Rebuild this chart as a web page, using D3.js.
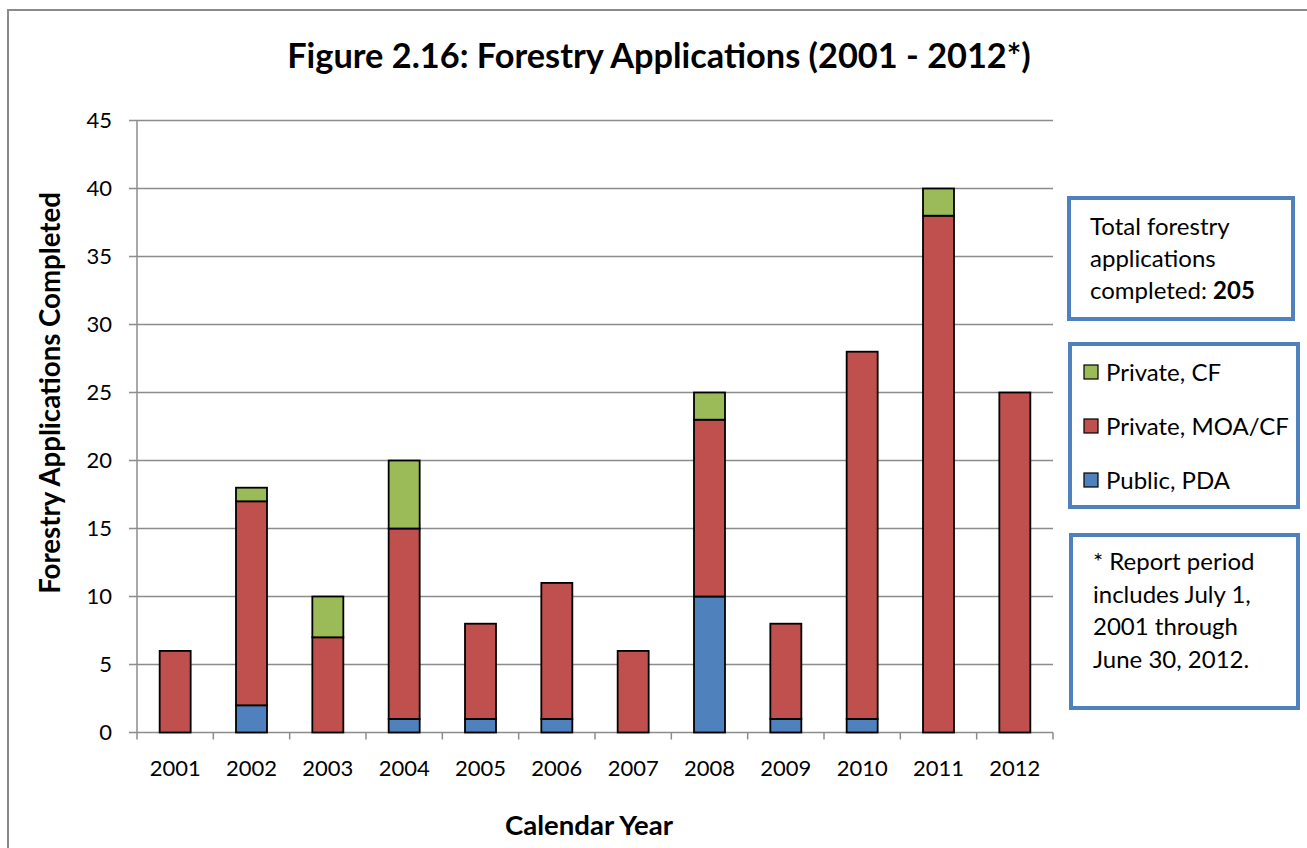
<!DOCTYPE html>
<html><head><meta charset="utf-8">
<script src="https://cdn.jsdelivr.net/npm/d3@7"></script>
<style>body{margin:0;background:#fff;} svg{display:block;font-family:Lato,"Open Sans",sans-serif;}</style>
</head><body>
<svg id="c" width="1307" height="848"></svg>
<script>
const years = ["2001","2002","2003","2004","2005","2006","2007","2008","2009","2010","2011","2012"];
const publicPDA = [0,2,0,1,1,1,0,10,1,1,0,0];
const privateMOA = [6,15,7,14,7,10,6,13,7,27,38,25];
const privateCF = [0,1,3,5,0,0,0,2,0,0,2,0];
const seriesNames = ["Public, PDA","Private, MOA/CF","Private, CF"];
const seriesColors = ["#4F81BD","#C0504D","#9BBB59"];
const yTicks = [0,5,10,15,20,25,30,35,40,45];
const legendOrder = [2,1,0];

const svg = d3.select("#c");
const L=137, R=1053, T=120.5, B=732.5;

// outer border
svg.append("rect").attr("x",8).attr("y",10).attr("width",1400).attr("height",900)
  .attr("fill","none").attr("stroke","#8a8a8a").attr("stroke-width",2);

const x = d3.scaleBand().domain(years).range([L,R]).paddingInner(0).paddingOuter(0);
const y = d3.scaleLinear().domain([0,45]).range([B,T]);

// gridlines
svg.append("g").selectAll("line").data(yTicks).join("line")
  .attr("x1",L-8).attr("x2",R).attr("y1",d=>y(d)).attr("y2",d=>y(d))
  .attr("stroke","#8c8c8c").attr("stroke-width",1.5);

// y axis line
svg.append("line").attr("x1",L).attr("x2",L).attr("y1",T).attr("y2",B)
  .attr("stroke","#8c8c8c").attr("stroke-width",1.5);
// x category ticks
const bounds = years.map((d,i)=>L+i*x.step()).concat([R]);
svg.append("g").selectAll("line").data(bounds).join("line")
  .attr("x1",d=>d).attr("x2",d=>d).attr("y1",B).attr("y2",B+7)
  .attr("stroke","#8c8c8c").attr("stroke-width",1.5);

// y tick labels
svg.append("g").selectAll("text").data(yTicks).join("text")
  .attr("x",112).attr("y",d=>y(d)).attr("dy","0.36em").attr("text-anchor","end")
  .attr("font-size",22).attr("fill","#000").text(d=>d);

// x tick labels
svg.append("g").selectAll("text").data(years).join("text")
  .attr("x",d=>x(d)+x.bandwidth()/2).attr("y",776).attr("text-anchor","middle")
  .attr("font-size",22).attr("fill","#000").text(d=>d);

// stacked bars
const table = years.map((yr,i)=>({year:yr, s0:publicPDA[i], s1:privateMOA[i], s2:privateCF[i]}));
const stack = d3.stack().keys(["s0","s1","s2"])(table);
const bw = 31;
stack.forEach((layer,li)=>{
  svg.append("g").selectAll("rect").data(layer.filter(d=>d[1]-d[0]>0)).join("rect")
    .attr("x",d=>x(d.data.year)+x.bandwidth()/2-bw/2)
    .attr("width",bw)
    .attr("y",d=>y(d[1]))
    .attr("height",d=>y(d[0])-y(d[1]))
    .attr("fill",seriesColors[li]).attr("stroke","#000").attr("stroke-width",1.8);
});

function fit(sel, w){
  const n = sel.node(); const cur = n.getComputedTextLength();
  const fs = parseFloat(sel.attr("font-size"));
  sel.attr("font-size", fs*w/cur);
}
// title
const title = svg.append("text").attr("x",659).attr("y",68).attr("text-anchor","middle")
  .attr("font-weight","bold").attr("font-size",29).text("Figure 2.16: Forestry Applications (2001 - 2012*)");
fit(title,744);
// y title
const yt = svg.append("text").attr("transform","translate(60,393) rotate(-90)").attr("text-anchor","middle")
  .attr("font-weight","bold").attr("font-size",20).text("Forestry Applications Completed");
fit(yt,402);
// x title
const xt = svg.append("text").attr("x",589).attr("y",835).attr("text-anchor","middle")
  .attr("font-weight","bold").attr("font-size",20).text("Calendar Year");
fit(xt,168);

// boxes
function box(x0,y0,w,h){
  svg.append("rect").attr("x",x0).attr("y",y0).attr("width",w).attr("height",h)
    .attr("fill","#fff").attr("stroke","#4F81BD").attr("stroke-width",4);
}
box(1069,198,224,121);
box(1070,344,228,163);
box(1071,535,227,173);

const fsBox = 24;
const totalVal = d3.sum(publicPDA)+d3.sum(privateMOA)+d3.sum(privateCF);
const t1 = svg.append("g").attr("font-size",fsBox);
t1.append("text").attr("x",1090).attr("y",235).text("Total forestry");
t1.append("text").attr("x",1090).attr("y",267).text("applications");
const t3 = t1.append("text").attr("x",1090).attr("y",299);
t3.append("tspan").text("completed: ");
t3.append("tspan").attr("font-weight","bold").text(totalVal);

// legend
const lg = svg.append("g").selectAll("g").data(legendOrder).join("g")
  .attr("transform",(d,i)=>`translate(1084,${372+i*54})`);
lg.append("rect").attr("x",0).attr("y",-7).attr("width",14).attr("height",14)
  .attr("fill",d=>seriesColors[d]).attr("stroke","#000").attr("stroke-width",1.2);
lg.append("text").attr("x",22).attr("y",0).attr("dy","0.36em").attr("font-size",fsBox).text(d=>seriesNames[d]);

// footnote
const fn = ["* Report period","includes July 1,","2001 through","June 30, 2012."];
svg.append("g").selectAll("text").data(fn).join("text")
  .attr("x",1093).attr("y",(d,i)=>570+i*32.5).attr("font-size",fsBox).text(d=>d);
</script>
</body></html>
